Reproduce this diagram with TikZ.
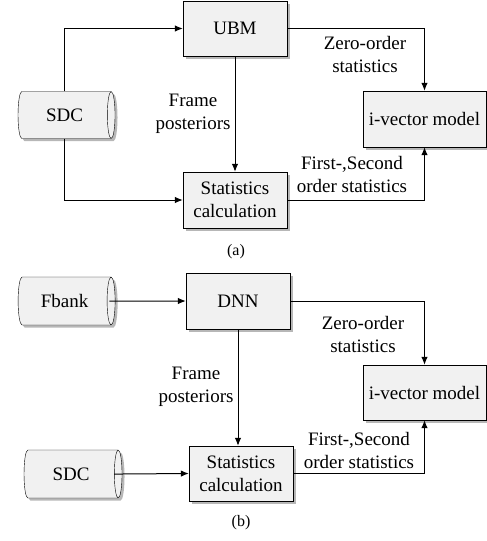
\documentclass[tikz,border=0pt]{standalone}
\usepackage{fontspec}
\setmainfont{Liberation Serif}
\usepackage{tikz}
\usetikzlibrary{arrows.meta,shapes.geometric,shadows}

\definecolor{boxfill}{HTML}{F1F1F1}

\begin{document}
\begin{tikzpicture}[
  x=1pt, y=1pt,
  > = {Latex[length=8pt,width=6.5pt]},
  font=\fontsize{19}{23}\selectfont,
  shade/.style = {drop shadow={shadow xshift=2.5pt,shadow yshift=-2.5pt,opacity=.4,fill=black!70}},
  block/.style = {draw,fill=boxfill,shade,inner sep=0pt,align=center,minimum width=104pt,minimum height=55pt},
  % cylinder takes its length as minimum height
  store/.style = {draw,fill=boxfill,shade,cylinder,shape aspect=.6,inner sep=0pt,minimum height=97pt,minimum width=47pt},
  lbl/.style = {align=center,inner sep=0pt},
  flow/.style = {->,line width=1pt}
  ]
  \useasboundingbox (0,0) rectangle (487,-541);

	% (a) UBM based system
	\node[store] (sdcA) at (64.5,-115) {SDC};
	\node[block] (ubm) at (235,-28.5) {UBM};
	\node[block,minimum height=56pt] (statA) at (235,-200) {Statistics\\calculation};
	\node[block,minimum width=123pt,minimum height=56pt] (ivecA) at (424.5,-119) {i-vector model};

  	\draw[flow] (sdcA.north) |- (ubm.west);
	\draw[flow] (sdcA.south) |- (statA.west);
	\draw[flow] (ubm.south) -- (statA.north);
	\draw[flow] (ubm.east) -| (ivecA.north);
	\draw[flow] (statA.east) -| (ivecA.south);

	\node[lbl] (zeroA) at (365,-54) {Zero-order\\statistics};
	\node[lbl] (frameA) at (193,-114) {Frame\\posteriors};
	\node[lbl] (firstA) at (352,-174.5) {First-,Second\\order statistics};
	\node[lbl,font=\fontsize{16}{19}\selectfont] (capA) at (236,-252) {(a)};

	% (b) DNN based system
	\node[store,minimum width=48pt] (fbank) at (64.5,-301) {Fbank};
	\node[store,minimum height=98pt,minimum width=48pt] (sdcB) at (71,-474) {SDC};
	\node[block,minimum height=56pt] (dnn) at (238,-301) {DNN};
	\node[block] (statB) at (241,-473.5) {Statistics\\calculation};
	\node[block,minimum width=123pt] (ivecB) at (424.5,-392.5) {i-vector model};

	\draw[flow,shorten <=-6pt] (fbank.east) -- (dnn.west);
	\draw[flow,shorten <=-8pt] (sdcB.east) -- (statB.west);
	\draw[flow] (dnn.south) -- (dnn.south |- statB.north);
	\draw[flow] (dnn.east) -| (ivecB.north);
	\draw[flow] (statB.east) -| (ivecB.south);

	\node[lbl] (zeroB) at (363,-334.5) {Zero-order\\statistics};
	\node[lbl] (frameB) at (196,-387) {Frame\\posteriors};
	\node[lbl] (firstB) at (359,-450) {First-,Second\\order statistics};
	\node[lbl,font=\fontsize{16}{19}\selectfont] (capB) at (241,-523) {(b)};

\end{tikzpicture}
\end{document}
